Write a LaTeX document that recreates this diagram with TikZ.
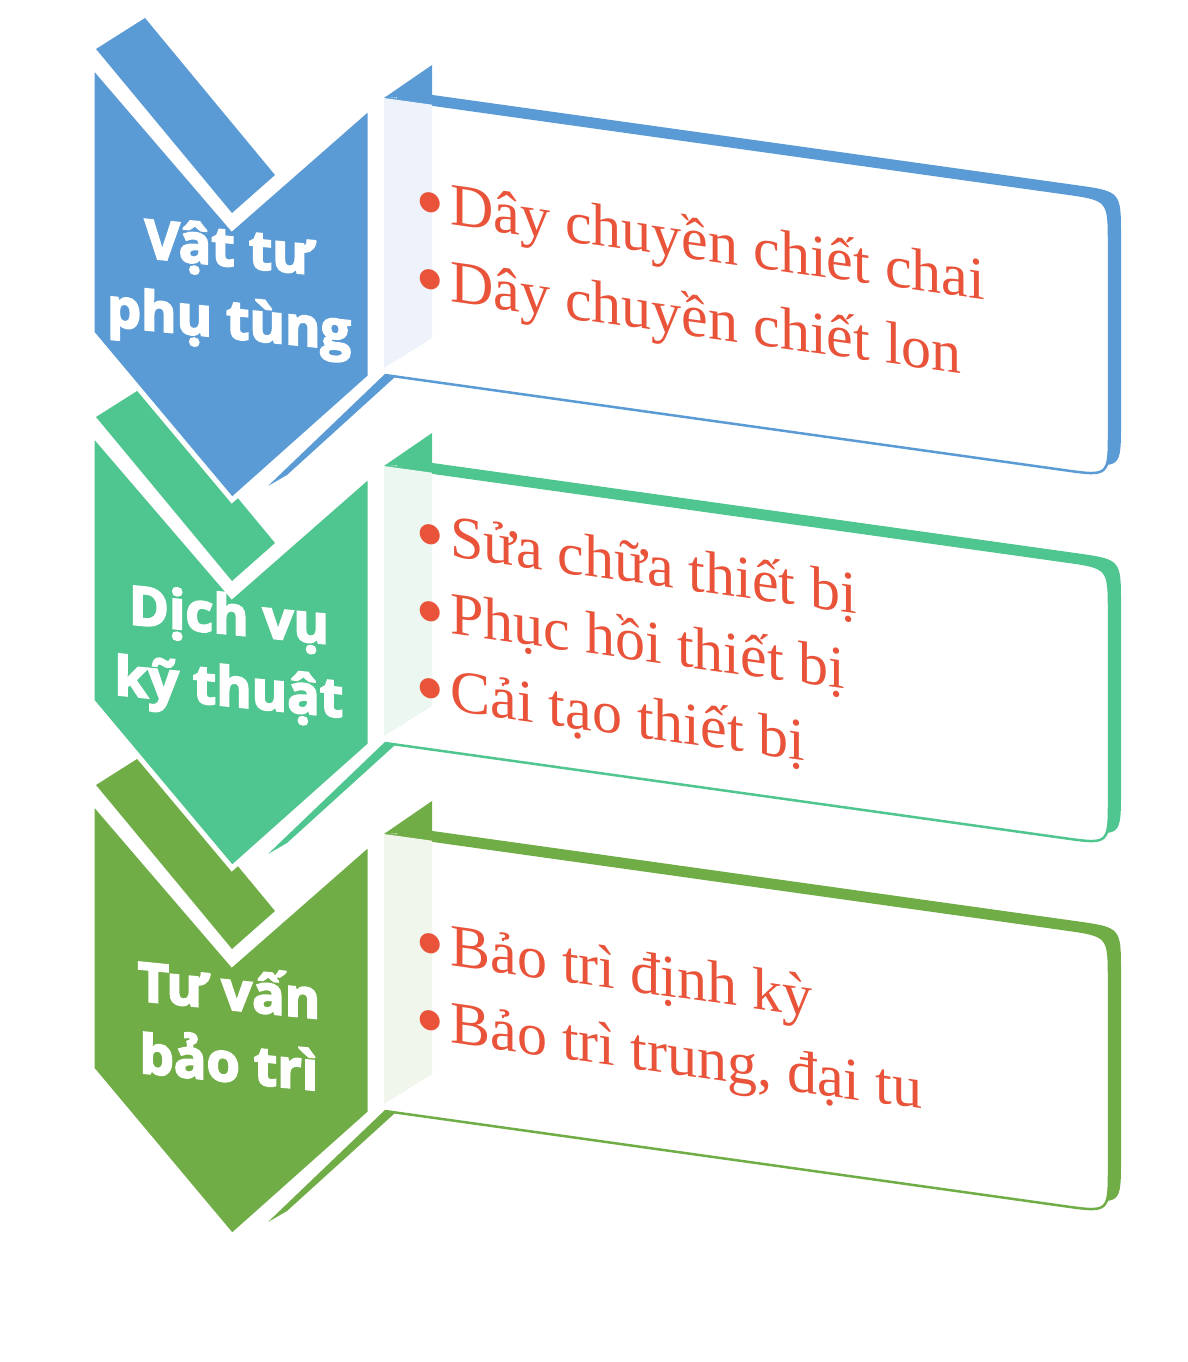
\documentclass[tikz,border=0pt]{standalone}
\usepackage{fontspec}
\setmainfont{Liberation Serif}
\newfontfamily\chevfont{Open Sans}

\definecolor{vtblue}{HTML}{5B9BD5}
\definecolor{dvgreen}{HTML}{4FC58F}
\definecolor{tvgreen}{HTML}{70AD47}
\definecolor{vtside}{HTML}{EEF3FB}
\definecolor{dvside}{HTML}{ECF7F1}
\definecolor{tvside}{HTML}{F0F6EC}
\definecolor{itemred}{HTML}{E8533A}

\tikzset{every picture/.style={line width=0.75pt}}
\tikzset{
  chevbody/.style={draw=white, line width=5pt, line join=miter},
  panelface/.style={fill=white, line width=2.5pt, line join=round},
  chevtext/.style={text=white, align=center, inner sep=0pt, yslant=-0.1,
    font=\chevfont\bfseries\fontsize{54}{72}\selectfont},
  itemtext/.style={text=itemred, anchor=base west, inner sep=0pt, yslant=-0.14,
    font=\fontsize{60}{77}\selectfont},
}
\newcommand{\itembullet}{\makebox[35pt][l]{\raisebox{-8pt}{\scalebox{1.4}{•}}}}
\newcommand{\chevline}[1]{\special{pdf:literal direct 2 Tr 1.8 w 1 1 1 RG}#1\special{pdf:literal direct 0 Tr}}

\begin{document}
\begin{tikzpicture}[x=1pt,y=1pt,yscale=-1]
	\useasboundingbox (0,0) rectangle (1188,1362);

	%Row 3: Tu van bao tri
	%Shape: Tab
	\fill [tvgreen] (96,785) -- (145,754) -- (275,911) -- (232,949) -- cycle ;
	%Shape: Chevron
	\draw [chevbody, fill=tvgreen] (92,801) -- (232,964) -- (370,843) -- (370,1113) -- (232,1236) -- (92,1069) -- cycle ;
	%Shape: Sliver
	\fill [tvgreen] (387,1108) -- (395,1113) -- (287,1211) -- (268,1222) -- cycle ;
	%Shape: Panel back
	\fill [tvgreen] (397,826) -- (1076,921.1) .. controls (1121,927.4) .. (1121,972) -- (1121,1159) .. controls (1121,1204.4) .. (1076,1198.1) -- (397,1103.4) -- cycle ;
	\fill [tvgreen] (432,801) -- (432,832) -- (384,834) -- cycle ;
	%Shape: Panel face
	\draw [panelface, draw=tvgreen] (385,834) -- (1064,929.1) .. controls (1109,935.4) .. (1109,980) -- (1109,1167) .. controls (1109,1212.4) .. (1064,1206.1) -- (385,1111) ;
	\fill [tvside] (384,834) -- (432,840.7) -- (432,1074) -- (384,1104) -- cycle ;

	%Row 2: Dich vu ky thuat
	%Shape: Tab
	\fill [dvgreen] (96,417) -- (145,386) -- (275,543) -- (232,581) -- cycle ;
	%Shape: Chevron
	\draw [chevbody, fill=dvgreen] (92,433) -- (232,596) -- (370,475) -- (370,745) -- (232,868) -- (92,701) -- cycle ;
	%Shape: Sliver
	\fill [dvgreen] (387,740) -- (395,745) -- (287,843) -- (268,854) -- cycle ;
	%Shape: Panel back
	\fill [dvgreen] (397,458) -- (1076,553.1) .. controls (1121,559.4) .. (1121,604) -- (1121,791) .. controls (1121,836.4) .. (1076,830.1) -- (397,735.4) -- cycle ;
	\fill [dvgreen] (432,433) -- (432,464) -- (384,466) -- cycle ;
	%Shape: Panel face
	\draw [panelface, draw=dvgreen] (385,466) -- (1064,561.1) .. controls (1109,567.4) .. (1109,612) -- (1109,799) .. controls (1109,844.4) .. (1064,838.1) -- (385,743) ;
	\fill [dvside] (384,466) -- (432,472.7) -- (432,706) -- (384,736) -- cycle ;

	%Row 1: Vat tu phu tung
	%Shape: Tab
	\fill [vtblue] (96,49) -- (145,18) -- (275,175) -- (232,213) -- cycle ;
	%Shape: Chevron
	\draw [chevbody, fill=vtblue] (92,65) -- (232,228) -- (370,107) -- (370,377) -- (232,500) -- (92,333) -- cycle ;
	%Shape: Sliver
	\fill [vtblue] (387,372) -- (395,377) -- (287,475) -- (268,486) -- cycle ;
	%Shape: Panel back
	\fill [vtblue] (397,90) -- (1076,185.1) .. controls (1121,191.4) .. (1121,236) -- (1121,423) .. controls (1121,468.4) .. (1076,462.1) -- (397,367.4) -- cycle ;
	\fill [vtblue] (432,65) -- (432,96) -- (384,98) -- cycle ;
	%Shape: Panel face
	\draw [panelface, draw=vtblue] (385,98) -- (1064,193.1) .. controls (1109,199.4) .. (1109,244) -- (1109,431) .. controls (1109,476.4) .. (1064,470.1) -- (385,375) ;
	\fill [vtside] (384,98) -- (432,104.7) -- (432,338) -- (384,368) -- cycle ;

	% Text Node
	\draw (229,288) node (vattu) [chevtext] {\chevline{Vật tư}\\\chevline{phụ tùng}};
	% Text Node
	\draw (229,656) node (dichvu) [chevtext] {\chevline{Dịch vụ}\\\chevline{kỹ thuật}};
	% Text Node
	\draw (229,1024) node (tuvan) [chevtext] {\chevline{Tư vấn}\\\chevline{bảo trì}};
	% Text Node
	\draw (415,220) node (chai) [itemtext] {\itembullet Dây chuyền chiết chai};
	% Text Node
	\draw (415,297) node (lon) [itemtext] {\itembullet Dây chuyền chiết lon};
	% Text Node
	\draw (415,552) node (suachua) [itemtext] {\itembullet Sửa chữa thiết bị};
	% Text Node
	\draw (415,629) node (phuchoi) [itemtext] {\itembullet Phục hồi thiết bị};
	% Text Node
	\draw (415,706) node (caitao) [itemtext] {\itembullet Cải tạo thiết bị};
	% Text Node
	\draw (415,961) node (dinhky) [itemtext] {\itembullet Bảo trì định kỳ};
	% Text Node
	\draw (415,1038) node (daitu) [itemtext] {\itembullet Bảo trì trung, đại tu};

\end{tikzpicture}
\end{document}
